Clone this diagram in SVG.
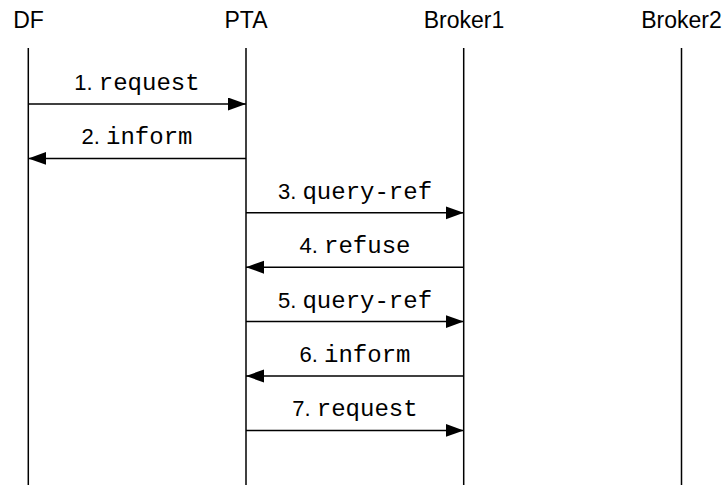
<svg xmlns="http://www.w3.org/2000/svg" width="726" height="485" viewBox="0 0 726 485">
<style>
.hdr{font-family:"Liberation Sans",Arial,sans-serif;font-size:23px;fill:#000;text-anchor:middle}
.life{stroke:#000;stroke-width:1.5;fill:none}
.msg{stroke:#000;stroke-width:1.5;fill:none;marker-end:url(#ah)}
.lbl{font-size:22px;fill:#000;text-anchor:middle}
.n{font-family:"Liberation Sans",Arial,sans-serif}
.m{font-family:"Liberation Mono","Courier New",monospace;font-size:24px}
</style>
<defs>
<marker id="ah" markerUnits="userSpaceOnUse" markerWidth="19" markerHeight="14" refX="18" refY="6.5" orient="auto">
<path d="M0,0 L18,6.5 L0,13 z" fill="#000"/>
</marker>
</defs>
<rect width="726" height="485" fill="#fff"/>
<g id="DF"><text class="hdr" x="28.5" y="28">DF</text><line class="life" x1="28.3" y1="48" x2="28.3" y2="485"/></g>
<g id="PTA"><text class="hdr" x="246" y="28">PTA</text><line class="life" x1="246" y1="48" x2="246" y2="485"/></g>
<g id="Broker1"><text class="hdr" x="464" y="28">Broker1</text><line class="life" x1="463.7" y1="48" x2="463.7" y2="485"/></g>
<g id="Broker2"><text class="hdr" x="681.5" y="28">Broker2</text><line class="life" x1="681.5" y1="48" x2="681.5" y2="485"/></g>
<g id="connectors">
<line class="msg" x1="28.3" y1="104" x2="246" y2="104"/>
<text class="lbl" x="137" y="90"><tspan class="n">1. </tspan><tspan class="m">request</tspan></text>
<line class="msg" x1="246" y1="158.4" x2="28.3" y2="158.4"/>
<text class="lbl" x="137" y="144.4"><tspan class="n">2. </tspan><tspan class="m">inform</tspan></text>
<line class="msg" x1="246" y1="212.8" x2="463.7" y2="212.8"/>
<text class="lbl" x="355" y="198.8"><tspan class="n">3. </tspan><tspan class="m">query-ref</tspan></text>
<line class="msg" x1="463.7" y1="267.2" x2="246" y2="267.2"/>
<text class="lbl" x="355" y="253.2"><tspan class="n">4. </tspan><tspan class="m">refuse</tspan></text>
<line class="msg" x1="246" y1="321.6" x2="463.7" y2="321.6"/>
<text class="lbl" x="355" y="307.6"><tspan class="n">5. </tspan><tspan class="m">query-ref</tspan></text>
<line class="msg" x1="463.7" y1="376" x2="246" y2="376"/>
<text class="lbl" x="355" y="362"><tspan class="n">6. </tspan><tspan class="m">inform</tspan></text>
<line class="msg" x1="246" y1="430.4" x2="463.7" y2="430.4"/>
<text class="lbl" x="355" y="416.4"><tspan class="n">7. </tspan><tspan class="m">request</tspan></text>
</g>
</svg>
